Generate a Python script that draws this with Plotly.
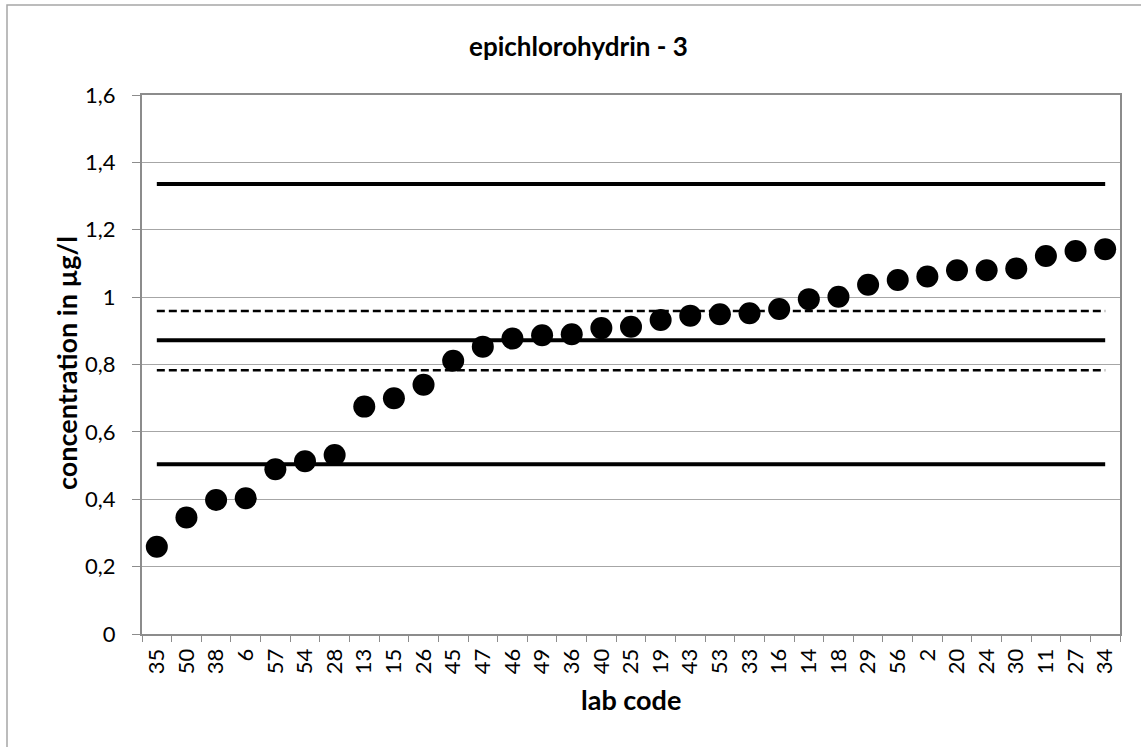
import plotly.graph_objects as go

# ---- data ----
lab_codes = ["35", "50", "38", "6", "57", "54", "28", "13", "15", "26", "45", "47",
             "46", "49", "36", "40", "25", "19", "43", "53", "33", "16", "14", "18",
             "29", "56", "2", "20", "24", "30", "11", "27", "34"]
concentrations = [0.259, 0.346, 0.398, 0.403, 0.489, 0.513, 0.531, 0.675, 0.700, 0.740,
                  0.811, 0.853, 0.877, 0.887, 0.890, 0.908, 0.912, 0.932, 0.945, 0.949,
                  0.952, 0.965, 0.994, 1.001, 1.037, 1.051, 1.061, 1.080, 1.080, 1.085,
                  1.122, 1.137, 1.142]
assigned_value = 0.872
upper_limit = 1.336
lower_limit = 0.504
upper_uncert = 0.959
lower_uncert = 0.783

y_ticks = [0, 0.2, 0.4, 0.6, 0.8, 1.0, 1.2, 1.4, 1.6]

FONT = "Lato"

# layout geometry (pixels)
W, H = 1141, 747
L, R, T, B = 142, 21, 95, 113
PW, PH = W - L - R, H - T - B


def px_x(p):
    return (p - L) / PW


def px_y(p):
    return (H - B - p) / PH


fig = go.Figure()

x_ends = [lab_codes[0], lab_codes[-1]]
for val, dash, width in [(upper_limit, "solid", 4), (assigned_value, "solid", 4),
                         (lower_limit, "solid", 4), (upper_uncert, "8px,4px", 2.5),
                         (lower_uncert, "8px,4px", 2.5)]:
    fig.add_trace(go.Scatter(x=x_ends, y=[val, val], mode="lines",
                             line=dict(color="black", width=width, dash=dash),
                             hoverinfo="skip", showlegend=False))

fig.add_trace(go.Scatter(x=lab_codes, y=concentrations, mode="markers",
                         marker=dict(color="black", size=22),
                         showlegend=False))

grid = "#a6a6a6"
axis_col = "#8c8c8c"

fig.update_xaxes(type="category", categoryorder="array", categoryarray=lab_codes,
                 range=[-0.5, len(lab_codes) - 0.5],
                 showgrid=False, showline=True, linecolor=axis_col, linewidth=2,
                 mirror=True, ticks="outside", tickson="boundaries", ticklen=6,
                 tickcolor=axis_col, tickangle=-90, ticklabelstandoff=4,
                 tickfont=dict(family=FONT, size=22, color="black"))
fig.update_yaxes(range=[0, 1.6], tickvals=y_ticks, showgrid=True, gridcolor=grid,
                 gridwidth=1, showline=True, linecolor=axis_col, linewidth=2,
                 mirror=True, ticks="outside", ticklen=8, tickcolor=axis_col,
                 zeroline=False, ticklabelstandoff=12,
                 tickfont=dict(family=FONT, size=22, color="black"))

fig.update_layout(
    width=W, height=H,
    margin=dict(l=L, r=R, t=T, b=B, pad=0),
    paper_bgcolor="white", plot_bgcolor="white",
    separators=", ",
    font=dict(family=FONT, color="black"),
    shapes=[dict(type="rect", xref="paper", yref="paper",
                 x0=px_x(7), x1=px_x(1160), y0=px_y(770), y1=px_y(5),
                 line=dict(color="#a6a6a6", width=1.5), layer="below")],
    annotations=[
        dict(text="<b>epichlorohydrin - 3</b>", xref="paper", yref="paper",
             x=px_x(578), y=px_y(46), xanchor="center", yanchor="middle",
             showarrow=False, font=dict(family=FONT, size=26, color="black")),
        dict(text="<b>lab code</b>", xref="paper", yref="paper",
             x=px_x(631), y=px_y(699), xanchor="center", yanchor="middle",
             showarrow=False, font=dict(family=FONT, size=27, color="black")),
        dict(text="<b>concentration in µg/l</b>", xref="paper", yref="paper",
             x=px_x(66), y=px_y(363), xanchor="center", yanchor="middle",
             textangle=-90, showarrow=False,
             font=dict(family=FONT, size=27, color="black")),
    ],
)

fig.write_html("out.html")
